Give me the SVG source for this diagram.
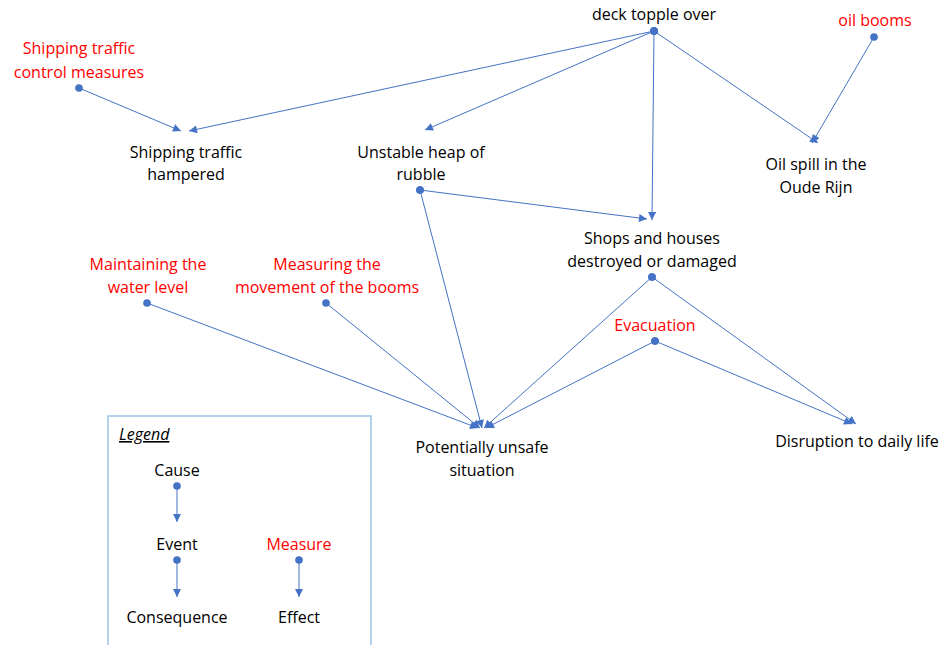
<svg xmlns="http://www.w3.org/2000/svg" width="945" height="645" viewBox="0 0 945 645">
<style>
text{font-family:"Open Sans","Liberation Sans",sans-serif;font-size:16px;text-anchor:middle;fill:#000}
.m{fill:#ff0000}
.e{fill:none;stroke:#4472c4;stroke-width:1;marker-start:url(#dot);marker-end:url(#arr)}
</style>
<defs>
<marker id="arr" viewBox="0 0 10 10" refX="10" refY="5" markerWidth="9" markerHeight="8" markerUnits="userSpaceOnUse" orient="auto"><path d="M0,0 L10,5 L0,10 z" fill="#4472c4"/></marker>
<marker id="dot" viewBox="-1 -1 12 12" refX="5" refY="5" markerWidth="10" markerHeight="10" markerUnits="userSpaceOnUse"><circle cx="5" cy="5" r="4.6" fill="#4472c4"/></marker>
</defs>
<rect width="945" height="645" fill="#fff"/>
<g id="connectors">
<path class="e" d="M654,31 L189,131"/>
<path class="e" d="M79,88 L181,131"/>
<path class="e" d="M654,31 L425,130"/>
<path class="e" d="M654,31 L652,220"/>
<path class="e" d="M654,31 L818,143"/>
<path class="e" d="M874,37 L812,143"/>
<path class="e" d="M420,190 L647,219"/>
<path class="e" d="M420,190 L482,428"/>
<path class="e" d="M147,303 L478,428"/>
<path class="e" d="M326,303 L480,428"/>
<path class="e" d="M652,277 L484,428"/>
<path class="e" d="M655,341 L486,428"/>
<path class="e" d="M652,277 L856,424"/>
<path class="e" d="M655,341 L852,424"/>
</g>
<g id="deck"><text x="654" y="20">deck topple over</text></g>
<g id="oilbooms"><text class="m" x="875" y="26">oil booms</text></g>
<g id="stcm"><text class="m" x="79" y="54">Shipping traffic</text><text class="m" x="79" y="78">control measures</text></g>
<g id="sth"><text x="186" y="158">Shipping traffic</text><text x="186" y="180">hampered</text></g>
<g id="heap"><text x="421" y="158">Unstable heap of</text><text x="421" y="180">rubble</text></g>
<g id="oilspill"><text x="816" y="170">Oil spill in the</text><text x="816" y="193">Oude Rijn</text></g>
<g id="shops"><text x="652" y="244">Shops and houses</text><text x="652" y="267">destroyed or damaged</text></g>
<g id="water"><text class="m" x="148" y="270">Maintaining the</text><text class="m" x="148" y="293">water level</text></g>
<g id="measuring"><text class="m" x="327" y="270">Measuring the</text><text class="m" x="327" y="293">movement of the booms</text></g>
<g id="evac"><text class="m" x="655" y="331">Evacuation</text></g>
<g id="unsafe"><text x="482" y="453">Potentially unsafe</text><text x="482" y="476">situation</text></g>
<g id="disruption"><text x="857" y="447">Disruption to daily life</text></g>
<g id="legend">
<path d="M108,645 L108,416 L371,416 L371,645" fill="none" stroke="#9dc3e6" stroke-width="1.5"/>
<text x="119" y="440" style="text-anchor:start;font-style:italic;text-decoration:underline">Legend</text>
<text x="177" y="476">Cause</text>
<path class="e" d="M177,486 L177,522"/>
<text x="177" y="550">Event</text>
<path class="e" d="M177,560 L177,597"/>
<text x="177" y="623">Consequence</text>
<text class="m" x="299" y="550">Measure</text>
<path class="e" d="M299,560 L299,597"/>
<text x="299" y="623">Effect</text>
</g>
</svg>
